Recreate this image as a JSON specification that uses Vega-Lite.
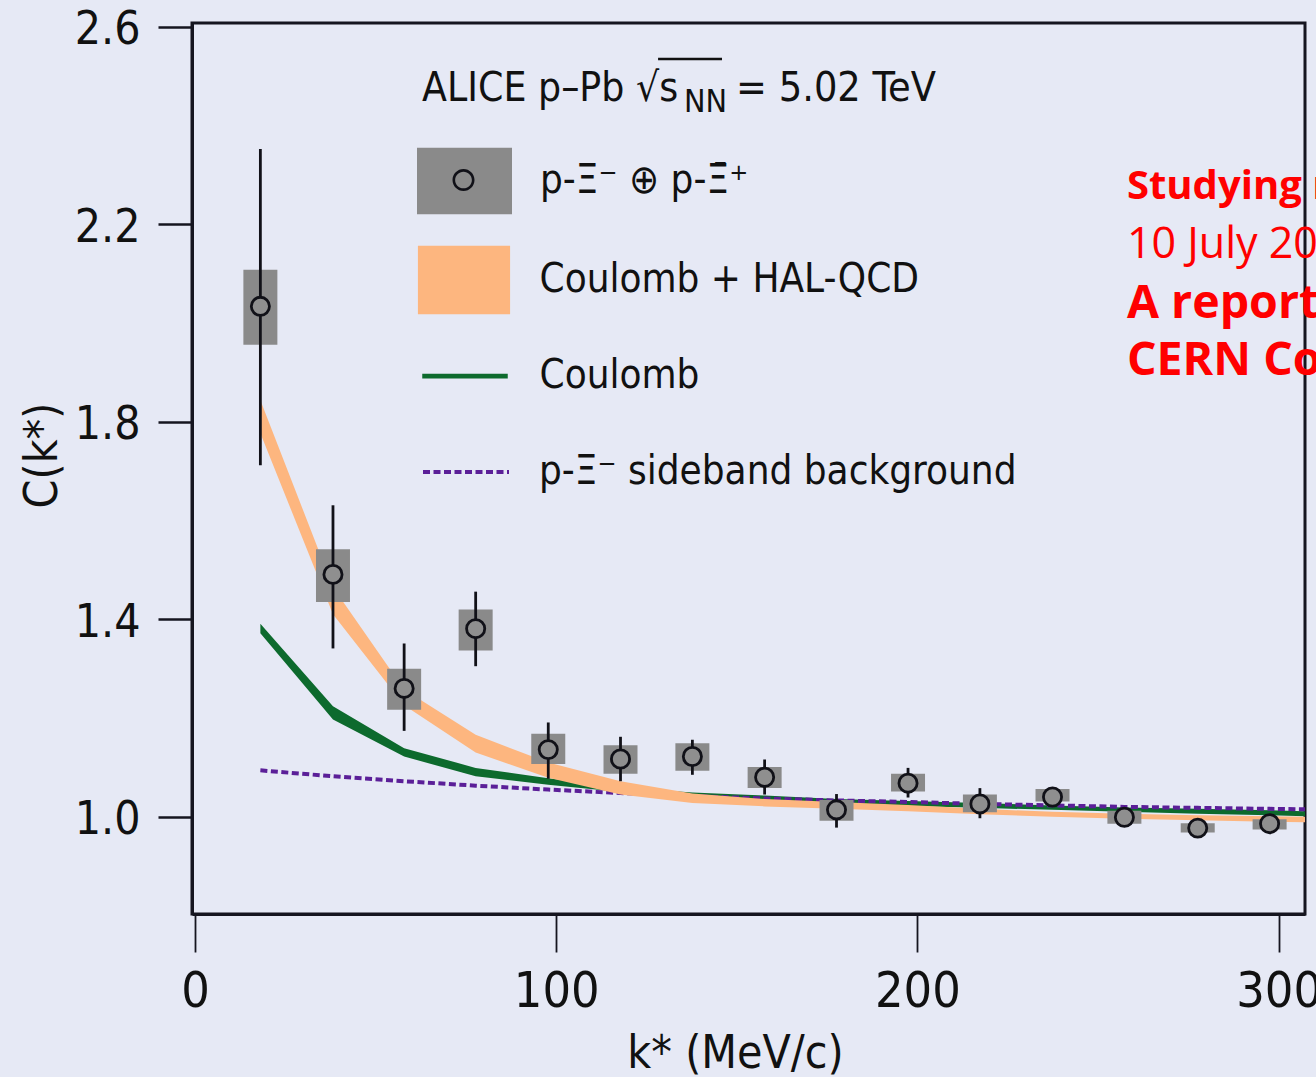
{
  "$schema": "https://vega.github.io/schema/vega-lite/v6.json",
  "width": 1113,
  "height": 891,
  "autosize": {"type": "none"},
  "padding": {"left": 192, "top": 23, "right": 11, "bottom": 163},
  "background": "#e6e9f5",
  "config": {
    "view": {"stroke": "#15151f", "strokeWidth": 3},
    "axis": {
      "domainColor": "#15151f", "domainWidth": 3, "tickColor": "#15151f", "grid": false,
      "labelColor": "#111111", "titleColor": "#111111",
      "labelFont": "DejaVu Sans Condensed, sans-serif",
      "titleFont": "DejaVu Sans Condensed, sans-serif",
      "titleFontWeight": "normal"
    },
    "legend": {
      "labelFont": "DejaVu Sans Condensed, sans-serif", "labelFontSize": 40, "labelColor": "#111111",
      "labelLimit": 0, "padding": 0, "orient": "none"
    },
    "text": {"font": "DejaVu Sans Condensed, sans-serif", "color": "#111111"}
  },
  "datasets": {
    "pts": [
      {"k": 18.1, "c": 2.034, "slo": 1.712, "shi": 2.353, "ylo": 1.956, "yhi": 2.108},
      {"k": 38.2, "c": 1.491, "slo": 1.341, "shi": 1.631, "ylo": 1.435, "yhi": 1.542},
      {"k": 57.9, "c": 1.260, "slo": 1.174, "shi": 1.351, "ylo": 1.217, "yhi": 1.300},
      {"k": 77.7, "c": 1.381, "slo": 1.305, "shi": 1.456, "ylo": 1.337, "yhi": 1.420},
      {"k": 97.8, "c": 1.136, "slo": 1.077, "shi": 1.191, "ylo": 1.107, "yhi": 1.168},
      {"k": 117.8, "c": 1.117, "slo": 1.072, "shi": 1.162, "ylo": 1.087, "yhi": 1.145},
      {"k": 137.7, "c": 1.122, "slo": 1.085, "shi": 1.156, "ylo": 1.093, "yhi": 1.149},
      {"k": 157.7, "c": 1.080, "slo": 1.045, "shi": 1.116, "ylo": 1.058, "yhi": 1.101},
      {"k": 177.6, "c": 1.014, "slo": 0.978, "shi": 1.046, "ylo": 0.992, "yhi": 1.034},
      {"k": 197.4, "c": 1.068, "slo": 1.039, "shi": 1.099, "ylo": 1.051, "yhi": 1.087},
      {"k": 217.3, "c": 1.026, "slo": 0.997, "shi": 1.058, "ylo": 1.009, "yhi": 1.045},
      {"k": 237.4, "c": 1.040, "slo": 1.025, "shi": 1.056, "ylo": 1.031, "yhi": 1.056},
      {"k": 257.3, "c": 0.999, "slo": 0.985, "shi": 1.015, "ylo": 0.986, "yhi": 1.012},
      {"k": 277.6, "c": 0.977, "slo": 0.965, "shi": 0.990, "ylo": 0.968, "yhi": 0.987},
      {"k": 297.5, "c": 0.986, "slo": 0.973, "shi": 0.998, "ylo": 0.974, "yhi": 0.995}
    ],
    "curves": [
      {"k": 18.1, "hlo": 1.777, "hhi": 1.844, "clo": 1.372, "chi": 1.391, "sb": 1.094},
      {"k": 38.2, "hlo": 1.410, "hhi": 1.465, "clo": 1.197, "chi": 1.224, "sb": 1.082},
      {"k": 57.9, "hlo": 1.226, "hhi": 1.258, "clo": 1.122, "chi": 1.139, "sb": 1.072},
      {"k": 77.7, "hlo": 1.130, "hhi": 1.166, "clo": 1.082, "chi": 1.099, "sb": 1.063},
      {"k": 97.8, "hlo": 1.079, "hhi": 1.110, "clo": 1.065, "chi": 1.078, "sb": 1.055},
      {"k": 117.8, "hlo": 1.045, "hhi": 1.072, "clo": 1.050, "chi": 1.060, "sb": 1.048},
      {"k": 137.7, "hlo": 1.028, "hhi": 1.047, "clo": 1.039, "chi": 1.049, "sb": 1.042},
      {"k": 157.7, "hlo": 1.021, "hhi": 1.036, "clo": 1.033, "chi": 1.043, "sb": 1.037},
      {"k": 177.6, "hlo": 1.016, "hhi": 1.030, "clo": 1.027, "chi": 1.036, "sb": 1.033},
      {"k": 197.4, "hlo": 1.011, "hhi": 1.024, "clo": 1.022, "chi": 1.032, "sb": 1.030},
      {"k": 217.3, "hlo": 1.005, "hhi": 1.016, "clo": 1.018, "chi": 1.028, "sb": 1.026},
      {"k": 237.4, "hlo": 1.000, "hhi": 1.010, "clo": 1.014, "chi": 1.023, "sb": 1.023},
      {"k": 257.3, "hlo": 0.996, "hhi": 1.006, "clo": 1.010, "chi": 1.019, "sb": 1.020},
      {"k": 277.6, "hlo": 0.993, "hhi": 1.003, "clo": 1.006, "chi": 1.016, "sb": 1.018},
      {"k": 297.5, "hlo": 0.990, "hhi": 1.001, "clo": 1.003, "chi": 1.013, "sb": 1.016},
      {"k": 307.3, "hlo": 0.989, "hhi": 1.000, "clo": 1.001, "chi": 1.011, "sb": 1.015}
    ]
  },
  "layer": [
    {
      "data": {"name": "curves"},
      "mark": {"type": "area", "opacity": 1, "color": "#0d6a2d", "strokeWidth": 0},
      "encoding": {
        "x": {"field": "k", "type": "quantitative",
          "scale": {"domain": [-0.83, 307.3], "nice": false, "zero": false, "padding": 0},
          "axis": {"values": [0, 100, 200, 300], "title": "k* (MeV/c)", "tickSize": 38, "tickWidth": 1.8,
            "labelFontSize": 50, "labelPadding": 14, "titleFontSize": 46,
            "titleX": 543, "titleY": 153, "titleAlign": "center", "titleBaseline": "alphabetic", "titleAnchor": null}},
        "y": {"field": "clo", "type": "quantitative",
          "scale": {"domain": [0.803, 2.608], "nice": false, "zero": false, "padding": 0},
          "axis": {"values": [1.0, 1.4, 1.8, 2.2, 2.6], "format": ".1f", "title": "C(k*)", "tickSize": 34, "tickWidth": 2.5,
            "labelFontSize": 46, "labelPadding": 18, "labelOffset": 3, "titleFontSize": 46,
            "titleX": -150, "titleY": 432, "titleAngle": -90, "titleAlign": "center", "titleBaseline": "middle", "titleAnchor": null}},
        "y2": {"field": "chi"},
        "stroke": {"datum": "Coulomb", "type": "nominal", "scale": {"range": ["#0d6a2d"]},
          "legend": {"orient": "none", "legendX": 225.5, "legendY": 305.5, "title": null,
            "symbolType": "M-0.9,-0.05H0.9V0.05H-0.9Z", "symbolSize": 9025, "symbolStrokeWidth": 0,
            "symbolFillColor": "#0d6a2d", "symbolOpacity": 1, "labelOffset": 27}}
      }
    },
    {
      "data": {"name": "curves"},
      "mark": {"type": "line", "strokeWidth": 4, "color": "#5b1f98"},
      "encoding": {
        "x": {"field": "k", "type": "quantitative"},
        "y": {"field": "sb", "type": "quantitative"},
        "strokeDash": {"datum": "p-Ξ⁻ sideband background", "type": "nominal", "scale": {"range": [[7, 3.5]]},
          "legend": {"orient": "none", "legendX": 229, "legendY": 404, "title": null,
            "symbolType": "stroke", "symbolSize": 7396, "symbolStrokeWidth": 4,
            "symbolStrokeColor": "#5b1f98", "symbolOpacity": 1, "labelOffset": 28}}
      }
    },
    {
      "data": {"name": "curves"},
      "mark": {"type": "area", "opacity": 1},
      "encoding": {
        "x": {"field": "k", "type": "quantitative"},
        "y": {"field": "hlo", "type": "quantitative"},
        "y2": {"field": "hhi"},
        "fill": {"datum": "Coulomb + HAL-QCD", "type": "nominal", "scale": {"range": ["#fdb67f"]},
          "legend": {"orient": "none", "legendX": 224.5, "legendY": 209.5, "title": null,
            "symbolType": "M-0.97,-0.72H0.97V0.72H-0.97Z", "symbolSize": 9025, "symbolStrokeWidth": 0,
            "symbolOpacity": 1, "labelOffset": 28}}
      }
    },
    {
      "data": {"name": "pts"},
      "mark": {"type": "bar", "size": 34, "opacity": 1},
      "encoding": {
        "x": {"field": "k", "type": "quantitative"},
        "y": {"field": "ylo", "type": "quantitative"},
        "y2": {"field": "yhi"},
        "color": {"datum": "p-Ξ⁻ ⊕ p-Ξ̄⁺", "type": "nominal", "scale": {"range": ["#8a8a8a"]},
          "legend": {"orient": "none", "legendX": 225, "legendY": 110.5, "title": null,
            "symbolType": "M-1,-0.7H1V0.7H-1Z", "symbolSize": 9025, "symbolStrokeWidth": 0,
            "symbolOpacity": 1, "labelOffset": 28}}
      }
    },
    {
      "data": {"name": "pts"},
      "mark": {"type": "rule", "strokeWidth": 2.8, "color": "#111118"},
      "encoding": {
        "x": {"field": "k", "type": "quantitative"},
        "y": {"field": "slo", "type": "quantitative"},
        "y2": {"field": "shi"}
      }
    },
    {
      "data": {"name": "pts"},
      "mark": {"type": "point", "filled": false, "fill": "#8f8f8f", "stroke": "#111118", "strokeWidth": 2.8, "size": 330, "opacity": 1, "fillOpacity": 1},
      "encoding": {
        "x": {"field": "k", "type": "quantitative"},
        "y": {"field": "c", "type": "quantitative"}
      }
    },
    {
      "data": {"values": []},
      "mark": {"type": "point", "filled": true, "color": "#111118", "opacity": 1},
      "encoding": {
        "shape": {"datum": "o", "type": "nominal",
          "scale": {"range": ["M1,0A1,1,0,1,0,-1,0A1,1,0,1,0,1,0Z M0.76,0A0.76,0.76,0,1,1,-0.76,0A0.76,0.76,0,1,1,0.76,0Z"]},
          "legend": {"orient": "none", "legendX": 260.5, "legendY": 146, "title": null, "zindex": 2,
            "symbolSize": 484, "symbolFillColor": "#111118", "symbolStrokeWidth": 0,
            "symbolOpacity": 1, "labelExpr": "''", "labelOffset": 0, "labelFontSize": 1}}
      }
    },
    {
      "data": {"values": [{"t": "ALICE p–Pb √s"}]},
      "mark": {"type": "text", "align": "left", "baseline": "alphabetic", "fontSize": 40.5},
      "encoding": {"x": {"datum": 62.85}, "y": {"datum": 2.450}, "text": {"field": "t"}}
    },
    {
      "data": {"values": [{"t": "NN"}]},
      "mark": {"type": "text", "align": "left", "baseline": "alphabetic", "fontSize": 32, "dy": 11},
      "encoding": {"x": {"datum": 135.4}, "y": {"datum": 2.450}, "text": {"field": "t"}}
    },
    {
      "data": {"values": [{"t": "= 5.02 TeV"}]},
      "mark": {"type": "text", "align": "left", "baseline": "alphabetic", "fontSize": 41},
      "encoding": {"x": {"datum": 149.8}, "y": {"datum": 2.450}, "text": {"field": "t"}}
    },
    {
      "data": {"values": [{}]},
      "mark": {"type": "rule", "strokeWidth": 2.5, "color": "#111111"},
      "encoding": {"x": {"datum": 128.2}, "x2": {"datum": 145.9}, "y": {"datum": 2.535}}
    },
    {
      "data": {"values": [{"t": "Studying neutron stars in the laboratory"}]},
      "mark": {"type": "text", "align": "left", "baseline": "alphabetic", "font": "Open Sans", "fontWeight": "bold", "fontSize": 40, "color": "#ff0000"},
      "encoding": {"x": {"datum": 258.0}, "y": {"datum": 2.251}, "text": {"field": "t"}}
    },
    {
      "data": {"values": [{"t": "10 July 2020"}]},
      "mark": {"type": "text", "align": "left", "baseline": "alphabetic", "font": "Open Sans", "fontWeight": "normal", "fontSize": 43, "color": "#ff0000"},
      "encoding": {"x": {"datum": 258.0}, "y": {"datum": 2.131}, "text": {"field": "t"}}
    },
    {
      "data": {"values": [{"t": "A report from"}]},
      "mark": {"type": "text", "align": "left", "baseline": "alphabetic", "font": "Open Sans", "fontWeight": "bold", "fontSize": 46.5, "color": "#ff0000"},
      "encoding": {"x": {"datum": 258.0}, "y": {"datum": 2.010}, "text": {"field": "t"}}
    },
    {
      "data": {"values": [{"t": "CERN Courier"}]},
      "mark": {"type": "text", "align": "left", "baseline": "alphabetic", "font": "Open Sans", "fontWeight": "bold", "fontSize": 46.5, "color": "#ff0000"},
      "encoding": {"x": {"datum": 258.0}, "y": {"datum": 1.895}, "text": {"field": "t"}}
    }
  ]
}
